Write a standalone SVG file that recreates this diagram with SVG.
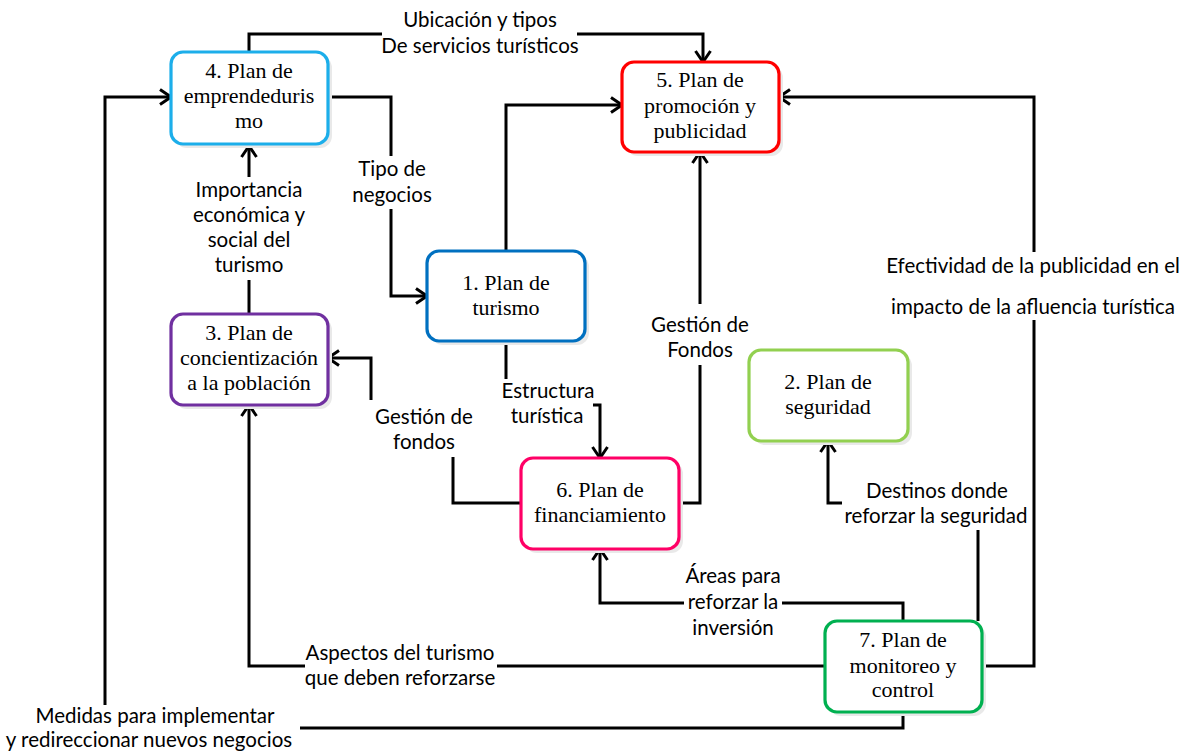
<svg xmlns="http://www.w3.org/2000/svg" width="1194" height="751" viewBox="0 0 1194 751">
<style>
.box{fill:#fff;stroke-width:3.2}
.sh{fill:#e9e9e9}
.nt{font-family:"Liberation Serif","Times New Roman",serif;font-size:22px;fill:#000;text-anchor:middle}
.lb{font-family:Lato,"Liberation Sans",sans-serif;font-size:20.5px;fill:#000;text-anchor:middle}
.c{fill:none;stroke:#000;stroke-width:3}
</style>
<defs>
<marker id="ar" markerUnits="userSpaceOnUse" viewBox="0 0 14 18" markerWidth="14" markerHeight="18" refX="12" refY="9" orient="auto">
<path d="M1,1.5 L12,9 L1,16.5" fill="none" stroke="#000" stroke-width="3"/>
</marker>
</defs>
<rect width="1194" height="751" fill="#fff"/>
<g id="connectors">
<path class="c" d="M249,52 V34 H382 M577,34 H703 V62" marker-end="url(#ar)"/>
<path class="c" d="M105,705 V97 H171" marker-end="url(#ar)"/>
<path class="c" d="M903,712 V728 H300"/>
<path class="c" d="M825,666 H497 M305,666 H249 V405" marker-end="url(#ar)"/>
<path class="c" d="M903,621 V603 H782 M684,603 H600 V549" marker-end="url(#ar)"/>
<path class="c" d="M982,666 H1034 V320 M1034,252 V97 H779" marker-end="url(#ar)"/>
<path class="c" d="M978,621 V530"/>
<path class="c" d="M842,503 H828 V441" marker-end="url(#ar)"/>
<path class="c" d="M506,251 V105 H622" marker-end="url(#ar)"/>
<path class="c" d="M330,97 H391 V156 M391,209 V296 H427" marker-end="url(#ar)"/>
<path class="c" d="M249,314 V280 M249,177 V146" marker-end="url(#ar)"/>
<path class="c" d="M506,341 V379 M593,405 H600 V458" marker-end="url(#ar)"/>
<path class="c" d="M521,503 H453 V457 M371,400 V358 H328" marker-end="url(#ar)"/>
<path class="c" d="M679,503 H700 V365 M700,304 V152" marker-end="url(#ar)"/>
</g>
<g id="labels">
<text class="lb" x="480" y="27">Ubicación y tipos</text>
<text class="lb" x="480" y="53">De servicios turísticos</text>
<text class="lb" x="392" y="176">Tipo de</text>
<text class="lb" x="392" y="202">negocios</text>
<text class="lb" x="249" y="197">Importancia</text>
<text class="lb" x="249" y="222">económica y</text>
<text class="lb" x="249" y="247">social del</text>
<text class="lb" x="249" y="272">turismo</text>
<text class="lb" x="548" y="398">Estructura</text>
<text class="lb" x="547" y="423">turística</text>
<text class="lb" x="700" y="332">Gestión de</text>
<text class="lb" x="700" y="357">Fondos</text>
<text class="lb" x="424" y="424">Gestión de</text>
<text class="lb" x="424" y="449">fondos</text>
<text class="lb" x="1033" y="273">Efectividad de la publicidad en el</text>
<text class="lb" x="1033" y="314">impacto de la afluencia turística</text>
<text class="lb" x="937" y="498">Destinos donde</text>
<text class="lb" x="936" y="523">reforzar la seguridad</text>
<text class="lb" x="733" y="583">Áreas para</text>
<text class="lb" x="733" y="609">reforzar la</text>
<text class="lb" x="733" y="635">inversión</text>
<text class="lb" x="400" y="660">Aspectos del turismo</text>
<text class="lb" x="400" y="685">que deben reforzarse</text>
<text class="lb" x="155" y="723">Medidas para implementar</text>
<text class="lb" x="149" y="747">y redireccionar nuevos negocios</text>
</g>
<g id="node4">
<rect class="sh" x="175" y="56" width="157" height="92" rx="12"/>
<rect class="box" x="171" y="52" width="157" height="92" rx="12" stroke="#1CAEEA"/>
<text class="nt" x="249" y="78">4. Plan de</text>
<text class="nt" x="249" y="103">emprendeduris</text>
<text class="nt" x="249" y="128">mo</text>
</g>
<g id="node5">
<rect class="sh" x="626" y="66" width="157" height="90" rx="12"/>
<rect class="box" x="622" y="62" width="157" height="90" rx="12" stroke="#FF0000"/>
<text class="nt" x="700" y="87">5. Plan de</text>
<text class="nt" x="700" y="113">promoción y</text>
<text class="nt" x="700" y="138">publicidad</text>
</g>
<g id="node3">
<rect class="sh" x="175" y="318" width="157" height="91" rx="12"/>
<rect class="box" x="171" y="314" width="157" height="91" rx="12" stroke="#7030A0"/>
<text class="nt" x="249" y="340">3. Plan de</text>
<text class="nt" x="249" y="365">concientización</text>
<text class="nt" x="249" y="390">a la población</text>
</g>
<g id="node1">
<rect class="sh" x="431" y="255" width="158" height="90" rx="12"/>
<rect class="box" x="427" y="251" width="158" height="90" rx="12" stroke="#0070C0"/>
<text class="nt" x="506" y="290">1. Plan de</text>
<text class="nt" x="506" y="315">turismo</text>
</g>
<g id="node6">
<rect class="sh" x="525" y="462" width="158" height="91" rx="12"/>
<rect class="box" x="521" y="458" width="158" height="91" rx="12" stroke="#FF0066"/>
<text class="nt" x="600" y="497">6. Plan de</text>
<text class="nt" x="600" y="522">financiamiento</text>
</g>
<g id="node2">
<rect class="sh" x="753" y="354" width="159" height="91" rx="12"/>
<rect class="box" x="749" y="350" width="159" height="91" rx="12" stroke="#92D050"/>
<text class="nt" x="828" y="389">2. Plan de</text>
<text class="nt" x="828" y="414">seguridad</text>
</g>
<g id="node7">
<rect class="sh" x="829" y="625" width="157" height="91" rx="12"/>
<rect class="box" x="825" y="621" width="157" height="91" rx="12" stroke="#00B050"/>
<text class="nt" x="903" y="647">7. Plan de</text>
<text class="nt" x="903" y="673">monitoreo y</text>
<text class="nt" x="903" y="697">control</text>
</g>
</svg>
